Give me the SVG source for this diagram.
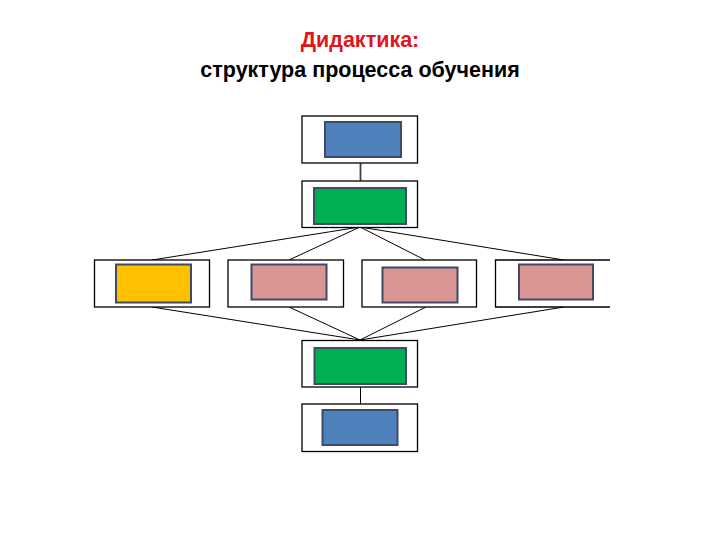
<svg xmlns="http://www.w3.org/2000/svg" width="720" height="540" viewBox="0 0 720 540">
<style>
.title{font-family:"Liberation Sans",Arial,sans-serif;font-weight:bold;font-size:21.5px;text-anchor:middle}
.outer{fill:#ffffff;stroke:#000000;stroke-width:1.3}
.inner{stroke:#3f4a68;stroke-width:2}
.blue{fill:#4f81bd}
.green{fill:#00b050}
.yellow{fill:#ffc000}
.pink{fill:#d99694}
.line{stroke:#000000;stroke-width:1;fill:none}
</style>
<rect width="720" height="540" fill="#ffffff"/>
<g id="title">
<text class="title" x="360" y="47" fill="#e0161c">Дидактика:</text>
<text class="title" x="360" y="77" fill="#000000">структура процесса обучения</text>
</g>
<g id="connectors">
<line class="line" x1="360.5" y1="163" x2="360.5" y2="181" stroke="#404040" style="stroke:#404040;stroke-width:1.8"/>
<line class="line" x1="360" y1="227" x2="152" y2="260"/>
<line class="line" x1="360" y1="227" x2="289" y2="260"/>
<line class="line" x1="360" y1="227" x2="425" y2="260"/>
<line class="line" x1="360" y1="227" x2="564" y2="260"/>
<line class="line" x1="152" y1="307" x2="360" y2="340"/>
<line class="line" x1="289" y1="307" x2="360" y2="340"/>
<line class="line" x1="426" y1="307" x2="360" y2="340"/>
<line class="line" x1="564" y1="307" x2="360" y2="340"/>
<line class="line" x1="360.5" y1="387" x2="360.5" y2="404"/>
</g>
<g id="node-top">
<rect class="outer" x="302" y="116" width="115.5" height="47"/>
<rect class="inner blue" x="325" y="122" width="76" height="35"/>
</g>
<g id="node-second">
<rect class="outer" x="302" y="181" width="115.5" height="46.5"/>
<rect class="inner green" x="314" y="188" width="92" height="36"/>
</g>
<g id="node-mid-1">
<rect class="outer" x="94.5" y="260" width="115" height="47"/>
<rect class="inner yellow" x="116" y="264.5" width="75" height="38"/>
</g>
<g id="node-mid-2">
<rect class="outer" x="228" y="260" width="115.5" height="47"/>
<rect class="inner pink" x="251.5" y="264.5" width="75" height="35"/>
</g>
<g id="node-mid-3">
<rect class="outer" x="362" y="260" width="114.5" height="47"/>
<rect class="inner pink" x="382.5" y="267.5" width="75" height="35"/>
</g>
<g id="node-mid-4">
<path class="outer" d="M610 260 H495.5 V307 H610" fill="#ffffff"/>
<rect class="inner pink" x="519" y="264.5" width="74" height="35"/>
</g>
<g id="node-fifth">
<rect class="outer" x="302" y="340.5" width="115.5" height="46.5"/>
<rect class="inner green" x="314.5" y="348" width="91.5" height="36"/>
</g>
<g id="node-bottom">
<rect class="outer" x="302" y="404" width="115.5" height="47.5"/>
<rect class="inner blue" x="322.5" y="410" width="75" height="35"/>
</g>
</svg>
